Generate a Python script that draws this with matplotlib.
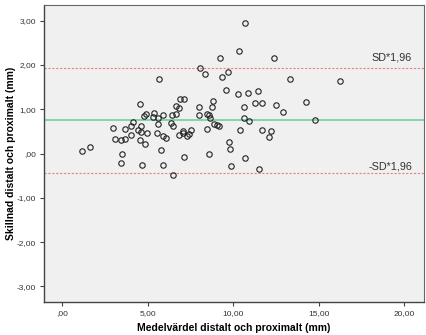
import matplotlib
matplotlib.use("Agg")
import matplotlib.pyplot as plt
from matplotlib.ticker import FuncFormatter

plt.rcParams["font.family"] = ["Liberation Sans", "DejaVu Sans"]

# mean of the two measurements (mm) and their difference (mm)
medel = [1.17, 1.63, 2.99, 3.08, 3.45, 3.67, 3.68, 3.48, 3.44, 4.04, 4.04, 4.11,
         4.41, 4.54, 4.62, 4.62, 4.52, 4.84, 4.68, 4.94, 4.76, 4.92, 5.32, 5.36,
         5.52, 5.60, 5.68, 5.62, 5.90, 5.77, 5.89, 5.91, 6.05, 6.34, 6.48, 6.43,
         6.62, 6.64, 6.81, 6.86, 7.13, 6.80, 7.03, 7.08, 7.28, 7.40, 7.54, 7.13,
         6.47, 8.06, 8.34, 8.02, 7.99, 8.48, 8.56, 8.64, 8.48, 8.60, 8.79, 8.77,
         8.89, 9.03, 9.17, 10.68, 10.33, 9.20, 12.38, 9.33, 9.67, 13.30, 16.24,
         9.60, 10.25, 10.84, 11.46, 11.29, 11.66, 10.64, 12.51, 14.23, 12.92,
         10.64, 10.92, 14.78, 10.38, 11.69, 12.22, 12.07, 9.75, 9.78, 10.70,
         9.88, 11.52]
skillnad = [0.06, 0.14, 0.57, 0.33, 0.31, 0.33, 0.55, -0.01, -0.22, 0.41, 0.62, 0.71,
            0.54, 1.12, 0.61, 0.49, 0.31, 0.22, -0.27, 0.47, 0.85, 0.89, 0.83, 0.91,
            0.46, 0.66, 1.68, 0.80, 0.86, 0.08, -0.25, 0.39, 0.35, 0.68, 0.63, 0.87,
            0.89, 1.07, 1.02, 1.23, 1.23, 0.42, 0.51, 0.46, 0.40, 0.44, 0.53, -0.07,
            -0.48, 1.94, 1.79, 1.04, 0.87, 0.90, 0.87, 0.80, 0.55, -0.01, 1.19, 1.06,
            0.66, 0.65, 0.61, 2.94, 2.32, 2.16, 2.15, 1.73, 1.85, 1.69, 1.63,
            1.43, 1.35, 1.37, 1.42, 1.14, 1.15, 1.04, 1.10, 1.16, 0.93,
            0.80, 0.73, 0.76, 0.53, 0.53, 0.51, 0.37, 0.25, 0.10, -0.09,
            -0.29, -0.34]

medelvarde = 0.745
sd_upper = 1.93
sd_lower = -0.44


def sv_fmt(v, pos):
    s = f"{v:.2f}".replace(".", ",")
    if s.startswith("0,"):
        s = s[1:]
    elif s.startswith("-0,"):
        s = "-" + s[2:]
    return s


fig = plt.figure(figsize=(4.26, 3.35), dpi=100)
ax = fig.add_axes([0.1033, 0.0985, 0.892, 0.8865])
ax.set_facecolor("#f0f0f0")

ax.axhline(medelvarde, color="#6fd0a0", linewidth=1.2, zorder=2)
ax.axhline(sd_upper, color="#e88080", linewidth=0.8, linestyle=(0, (2, 1.5)), zorder=2)
ax.axhline(sd_lower, color="#e88080", linewidth=0.8, linestyle=(0, (2, 1.5)), zorder=2)

ax.plot(medel, skillnad, linestyle="none", marker="o", markersize=3.9,
        markerfacecolor="none", markeredgecolor="#222222", markeredgewidth=0.8,
        zorder=3)

ax.text(20.45, 2.16, "SD*1,96", ha="right", va="center", fontsize=7.8, color="#333333")
ax.text(20.45, -0.29, "-SD*1,96", ha="right", va="center", fontsize=7.8, color="#333333")

ax.set_xlim(-1.07, 21.15)
ax.set_ylim(-3.35, 3.35)
ax.set_xticks([0, 5, 10, 15, 20])
ax.set_yticks([-3, -2, -1, 0, 1, 2, 3])
ax.xaxis.set_major_formatter(FuncFormatter(sv_fmt))
ax.yaxis.set_major_formatter(FuncFormatter(sv_fmt))
ax.tick_params(labelsize=6, length=3, width=0.8, color="#444444", labelcolor="#333333", pad=3)

for side in ["left", "bottom"]:
    ax.spines[side].set_color("#444444")
    ax.spines[side].set_linewidth(1.0)
for side in ["top", "right"]:
    ax.spines[side].set_color("#666666")
    ax.spines[side].set_linewidth(0.8)

ax.set_xlabel("Medelvärdel distalt och proximalt (mm)", fontsize=7.5, fontweight="bold", labelpad=4)
ax.set_ylabel("Skillnad distalt och proximalt (mm)", fontsize=7.5, fontweight="bold",
              va="center")
ax.yaxis.set_label_coords(-0.088, 0.5)

fig.savefig("out.png", dpi=100)
